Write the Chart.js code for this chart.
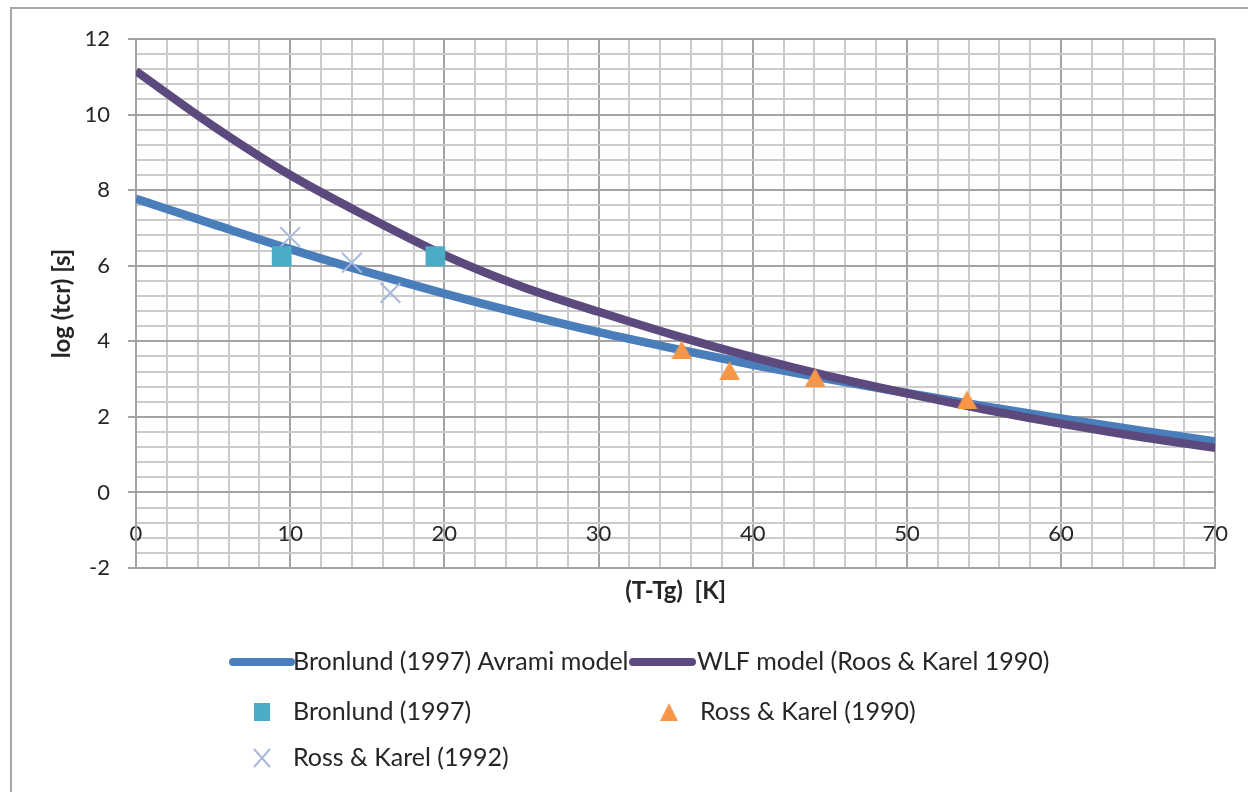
<!DOCTYPE html>
<html>
<head>
<meta charset="utf-8">
<script src="https://cdn.jsdelivr.net/npm/chart.js@4.4.1/dist/chart.umd.min.js"></script>
<style>
  html, body { margin: 0; padding: 0; background: #ffffff; }
  #wrap { width: 1248px; height: 792px; position: relative; }
</style>
</head>
<body>
<div id="wrap"><canvas id="chart" width="1248" height="792"></canvas></div>
<script>
// Model curves: log of crystallisation time against (T - Tg)
const modelT     = [0, 5, 10, 15, 20, 25, 30, 35, 40, 45, 50, 55, 60, 65, 70];
const avramiLog  = [7.77, 7.10, 6.44, 5.83, 5.26, 4.73, 4.24, 3.80, 3.38, 2.99, 2.63, 2.28, 1.96, 1.65, 1.35];
const wlfLog     = [11.15, 9.70, 8.40, 7.30, 6.28, 5.45, 4.78, 4.15, 3.58, 3.07, 2.62, 2.20, 1.82, 1.48, 1.18];

// Measured points
const bronlundT   = [9.45, 19.42];
const bronlundLog = [6.25, 6.25];
const rk1990T     = [35.4, 38.5, 44.05, 53.9];
const rk1990Log   = [3.77, 3.22, 3.04, 2.45];
const rk1992T     = [10.0, 14.0, 16.5];
const rk1992Log   = [6.76, 6.08, 5.28];

// Axis tick labels
const xTickLabels = [0, 10, 20, 30, 40, 50, 60, 70];
const yTickLabels = [-2, 0, 2, 4, 6, 8, 10, 12];

const COLORS = {
  avrami: '#4a7ebb',
  wlf: '#5c4a7e',
  bronlund: '#4bacc6',
  rk1990: '#f79646',
  rk1992: '#a9b8da',
  gridMajor: '#a3a3a3',
  gridMinor: '#cbcbcb',
  text: '#262626'
};
const FONT = 'Lato, "Open Sans", sans-serif';

const pairs = (xs, ys) => xs.map((x, i) => ({ x, y: ys[i] }));
const onList = (v, list) => list.some(t => Math.abs(t - v) < 1e-6);

// Triangle marker centred on its bounding box
function triangleMarker(w, h, color) {
  const c = document.createElement('canvas');
  c.width = w; c.height = h;
  const g = c.getContext('2d');
  g.fillStyle = color;
  g.beginPath();
  g.moveTo(w / 2, 0);
  g.lineTo(w, h);
  g.lineTo(0, h);
  g.closePath();
  g.fill();
  return c;
}
const triImg = triangleMarker(21, 19, COLORS.rk1990);

const datasets = [
  {
    label: 'Bronlund (1997)',
    data: pairs(bronlundT, bronlundLog),
    pointStyle: 'rect', pointRadius: 14, pointHoverRadius: 14,
    backgroundColor: COLORS.bronlund, borderColor: COLORS.bronlund, pointBorderWidth: 0,
    showLine: false, order: 0
  },
  {
    label: 'Ross & Karel (1990)',
    data: pairs(rk1990T, rk1990Log),
    pointStyle: triImg, pointRadius: 10,
    backgroundColor: COLORS.rk1990, borderColor: COLORS.rk1990,
    showLine: false, order: 0
  },
  {
    label: 'Ross & Karel (1992)',
    data: pairs(rk1992T, rk1992Log),
    pointStyle: 'crossRot', pointRadius: 14, pointHoverRadius: 14,
    backgroundColor: COLORS.rk1992, borderColor: COLORS.rk1992, pointBorderWidth: 2,
    showLine: false, order: 0
  },
  {
    label: 'WLF model (Roos & Karel 1990)',
    data: pairs(modelT, wlfLog),
    showLine: true, pointRadius: 0, borderWidth: 8.5,
    borderColor: COLORS.wlf, backgroundColor: COLORS.wlf,
    cubicInterpolationMode: 'monotone', borderCapStyle: 'butt', order: 1
  },
  {
    label: 'Bronlund (1997) Avrami model',
    data: pairs(modelT, avramiLog),
    showLine: true, pointRadius: 0, borderWidth: 8.5,
    borderColor: COLORS.avrami, backgroundColor: COLORS.avrami,
    cubicInterpolationMode: 'monotone', borderCapStyle: 'butt', order: 2
  }
];

// Outer frame, background and the two-column legend
const frameAndLegend = {
  id: 'frameAndLegend',
  beforeDraw(chart) {
    const ctx = chart.ctx;
    ctx.save();
    ctx.fillStyle = '#ffffff';
    ctx.fillRect(0, 0, chart.width, chart.height);
    ctx.strokeStyle = '#a6a6a6';
    ctx.lineWidth = 2;
    ctx.beginPath();
    ctx.moveTo(11, chart.height + 4);
    ctx.lineTo(11, 8);
    ctx.lineTo(chart.width + 4, 8);
    ctx.stroke();
    ctx.restore();
  },
  afterDraw(chart) {
    const ctx = chart.ctx;
    const base = chart.chartArea.bottom;
    const rows = [base + 94, base + 144, base + 190];
    const ds = label => chart.data.datasets.find(d => d.label === label);
    const entries = [
      { label: 'Bronlund (1997) Avrami model', kind: 'line', x1: 233, x2: 291, tx: 293, row: 0 },
      { label: 'WLF model (Roos & Karel 1990)', kind: 'line', x1: 633, x2: 692, tx: 697, row: 0 },
      { label: 'Bronlund (1997)', kind: 'rect', x: 262, tx: 293, row: 1 },
      { label: 'Ross & Karel (1990)', kind: 'tri', x: 669, tx: 700, row: 1 },
      { label: 'Ross & Karel (1992)', kind: 'cross', x: 262, tx: 293, row: 2 }
    ];
    ctx.save();
    entries.forEach(e => {
      const d = ds(e.label);
      const y = rows[e.row];
      if (e.kind === 'line') {
        ctx.strokeStyle = d.borderColor;
        ctx.lineWidth = 8;
        ctx.lineCap = 'round';
        ctx.beginPath();
        ctx.moveTo(e.x1, y);
        ctx.lineTo(e.x2, y);
        ctx.stroke();
      } else if (e.kind === 'rect') {
        ctx.fillStyle = d.backgroundColor;
        ctx.fillRect(e.x - 8, y - 9, 16, 18);
      } else if (e.kind === 'tri') {
        ctx.drawImage(d.pointStyle, e.x - 9, y - 9, 18, 18);
      } else if (e.kind === 'cross') {
        ctx.strokeStyle = d.borderColor;
        ctx.lineWidth = 2;
        ctx.lineCap = 'butt';
        ctx.beginPath();
        ctx.moveTo(e.x - 8, y - 9); ctx.lineTo(e.x + 8, y + 9);
        ctx.moveTo(e.x + 8, y - 9); ctx.lineTo(e.x - 8, y + 9);
        ctx.stroke();
      }
      ctx.fillStyle = COLORS.text;
      ctx.font = '25px ' + FONT;
      ctx.textAlign = 'left';
      ctx.textBaseline = 'middle';
      ctx.fillText(e.label, e.tx, y);
    });
    ctx.restore();
  }
};

const gridColor = (step) => (c) => {
  if (!c.tick) return COLORS.gridMajor;
  const v = c.tick.value / step;
  return Math.abs(v - Math.round(v)) < 1e-6 ? COLORS.gridMajor : COLORS.gridMinor;
};

new Chart(document.getElementById('chart'), {
  type: 'scatter',
  data: { datasets },
  plugins: [frameAndLegend],
  options: {
    responsive: false,
    animation: false,
    devicePixelRatio: 1,
    layout: { padding: { left: 0, top: 39, right: 32, bottom: 0 } },
    plugins: { legend: { display: false }, tooltip: { enabled: false } },
    scales: {
      x: {
        type: 'linear',
        position: 'bottom',
        min: xTickLabels[0],
        max: xTickLabels[xTickLabels.length - 1],
        ticks: { stepSize: 2, display: false },
        grid: { color: gridColor(10), lineWidth: 2, drawTicks: false },
        border: { display: true, color: COLORS.gridMajor, width: 2 },
        title: {
          display: true,
          text: '(T-Tg)  [K]',
          color: COLORS.text,
          font: { family: FONT, size: 24, weight: 'bold' },
          padding: { top: 0, bottom: 186 }
        },
        afterFit(scale) { scale.height = 224; }
      },
      xLabels: {
        type: 'linear',
        axis: 'x',
        position: { y: 0 },
        min: xTickLabels[0],
        max: xTickLabels[xTickLabels.length - 1],
        ticks: {
          stepSize: 10,
          padding: 20,
          color: COLORS.text,
          font: { family: FONT, size: 22 },
          autoSkip: false,
          maxRotation: 0,
          callback: (v) => onList(v, xTickLabels) ? String(v) : ''
        },
        grid: { display: false },
        border: { display: false }
      },
      y: {
        type: 'linear',
        position: 'left',
        min: yTickLabels[0],
        max: yTickLabels[yTickLabels.length - 1],
        ticks: {
          stepSize: 0.4,
          padding: 18,
          autoSkip: false,
          color: COLORS.text,
          font: { family: FONT, size: 22 },
          callback: (v) => onList(v, yTickLabels) ? String(Math.round(v)) : ''
        },
        grid: {
          color: gridColor(2),
          lineWidth: 2,
          drawTicks: true,
          tickLength: 8,
          tickColor: (c) => {
            if (!c.tick) return 'rgba(0,0,0,0)';
            const v = c.tick.value / 2;
            return Math.abs(v - Math.round(v)) < 1e-6 ? COLORS.gridMajor : 'rgba(0,0,0,0)';
          }
        },
        border: { display: true, color: COLORS.gridMajor, width: 2 },
        title: {
          display: true,
          text: 'log (tcr) [s]',
          color: COLORS.text,
          font: { family: FONT, size: 24, weight: 'bold' },
          padding: { top: 48, bottom: 0 }
        },
        afterFit(scale) { scale.width = 136; }
      }
    }
  }
});
</script>
</body>
</html>
